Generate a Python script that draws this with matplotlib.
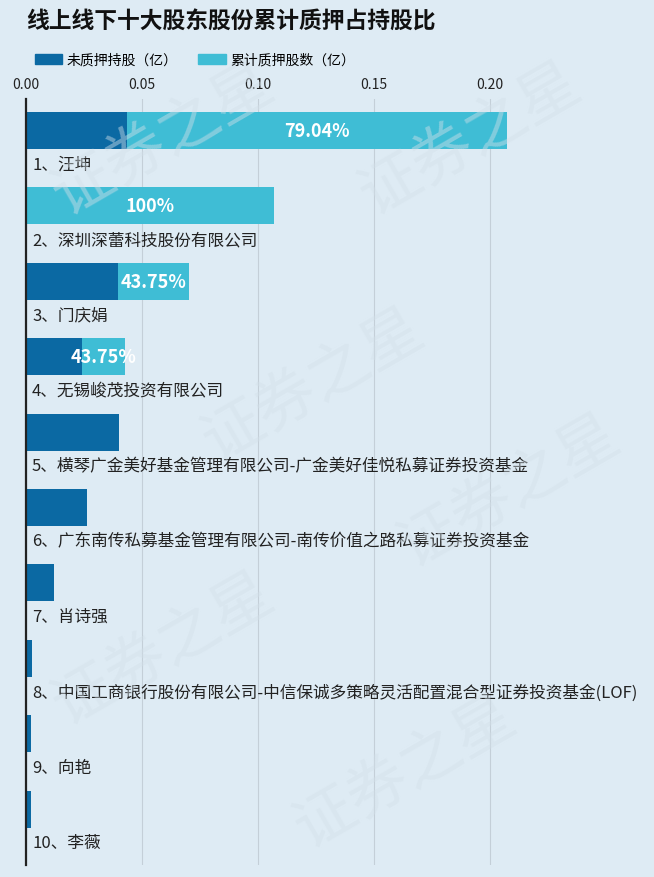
import matplotlib
matplotlib.use("Agg")
from matplotlib import pyplot as plt
from matplotlib.patches import Patch
import numpy as np

plt.rcParams['font.family'] = ['Noto Sans CJK SC', 'DejaVu Sans']

# holder names, top to bottom
names = ['1、汪坤', '2、深圳深蕾科技股份有限公司', '3、门庆娟', '4、无锡峻茂投资有限公司',
         '5、横琴广金美好基金管理有限公司-广金美好佳悦私募证券投资基金',
         '6、广东南传私募基金管理有限公司-南传价值之路私募证券投资基金',
         '7、肖诗强',
         '8、中国工商银行股份有限公司-中信保诚多策略灵活配置混合型证券投资基金(LOF)',
         '9、向艳', '10、李薇']
# shares (100 million)
unpledged = [0.0434, 0.0, 0.0397, 0.0241, 0.0401, 0.0263, 0.0121, 0.0026, 0.0022, 0.0022]
pledged = [0.1641, 0.1068, 0.0305, 0.0186, 0.0, 0.0, 0.0, 0.0, 0.0, 0.0]
pct_labels = ['79.04%', '100%', '43.75%', '43.75%', '', '', '', '', '', '']
xticks = [0.00, 0.05, 0.10, 0.15, 0.20]

dark = '#0b69a3'
light = '#3fbdd5'
bg = '#deebf4'

fig = plt.figure(figsize=(6.54, 8.78), dpi=100)
fig.patch.set_facecolor(bg)

# faint watermark, kept inside the canvas
for (wx, wy) in [(0.25, 0.84), (0.72, 0.84), (0.48, 0.56), (0.78, 0.44), (0.25, 0.26), (0.62, 0.12)]:
    fig.text(wx, wy, '证券之星', fontsize=44, color='#d3e0e9', alpha=0.45,
             rotation=30, ha='center', va='center', zorder=0)

ax = fig.add_axes([26 / 654, 1 - 866 / 878, 626 / 654, 766 / 878])
ax.set_facecolor('none')

y = np.arange(len(names))
ax.barh(y, unpledged, height=0.49, color=dark, zorder=3)
ax.barh(y, pledged, left=unpledged, height=0.49, color=light, zorder=3)

for i in range(len(names)):
    if pct_labels[i]:
        xc = unpledged[i] + pledged[i] / 2
        ax.text(xc, y[i], pct_labels[i], color='white', fontsize=13, fontweight='bold',
                ha='center', va='center', zorder=4)
    ax.text(0.0026, y[i] + 0.445, names[i], fontsize=12, color='#222222',
            ha='left', va='center', zorder=4)

ax.set_xlim(0, 0.27)
ax.set_ylim(9.74, -0.418)
ax.xaxis.tick_top()
ax.set_xticks(xticks)
ax.set_xticklabels(['%.2f' % v for v in xticks], fontsize=10, color='#222222')
ax.tick_params(axis='x', length=0, pad=6)
ax.set_yticks([])
ax.grid(axis='x', color='#c4cfd8', linewidth=0.8, zorder=1)
for s in ['top', 'right', 'bottom']:
    ax.spines[s].set_visible(False)
ax.spines['left'].set_color('#222222')
ax.spines['left'].set_linewidth(1.6)
ax.spines['left'].set_zorder(5)

fig.text(26 / 654, 1 - 22 / 878, '线上线下十大股东股份累计质押占持股比', fontsize=16.4,
         fontweight='bold', color='#111111', ha='left', va='center')

handles = [Patch(color=dark, label='未质押持股（亿）'), Patch(color=light, label='累计质押股数（亿）')]
fig.legend(handles=handles, loc='center left', bbox_to_anchor=(22 / 654, 1 - 61 / 878),
           ncol=2, frameon=False, fontsize=10, handlelength=2.0, handleheight=0.75,
           handletextpad=0.3, columnspacing=1.5)

fig.savefig('out.png', dpi=100, facecolor=bg)
